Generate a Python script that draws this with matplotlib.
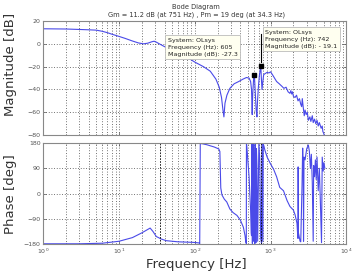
import matplotlib
matplotlib.use("Agg")
import matplotlib.pyplot as plt
from matplotlib.ticker import LogLocator, NullFormatter, FixedLocator

# magnitude trace (Hz, dB)
mag_freq = [1, 2, 3, 4, 5, 6, 7, 8, 10, 12, 15, 18, 21, 24, 27, 29, 31, 34, 40, 50,
            60, 80, 100, 130, 160, 190, 210, 225, 235, 242, 250, 265, 290, 330, 380,
            430, 480, 520, 545, 560, 572, 580, 595, 605, 615, 630, 645, 660, 672, 690,
            710, 725, 742, 755, 770, 790, 810, 850, 900, 950, 1000, 1080, 1150, 1200,
            1300, 1400, 1500, 1600, 1700, 1800, 1850, 1900, 1950, 2000, 2100, 2200,
            2300, 2400, 2500, 2570, 2620, 2700, 2780, 2850, 2950, 3050, 3150, 3300,
            3400, 3550, 3650, 3800, 3950, 4100, 4250, 4400, 4500, 4650, 4800, 4900,
            5000, 5100]
mag_db = [13.2, 13.0, 12.6, 12.3, 12.0, 11.0, 9.8, 8.5, 6.5, 4.8, 2.5, 0.8, 0.0, 0.6,
          1.8, 2.3, 1.5, 0.0, -2.5, -5.5, -8, -12, -16, -20, -24, -31, -38, -47, -58,
          -64, -52, -45, -39, -35, -33, -31, -29.5, -30, -33, -40, -62, -45, -32, -27.3,
          -31, -45, -58, -64, -50, -38, -28, -24, -19.1, -30, -40, -33, -27, -26, -25,
          -25.5, -24.5, -28, -31, -33, -35, -37, -39, -38, -42, -43.4, -41, -44, -42,
          -46, -47, -45, -50, -48, -53, -55, -48, -56, -63, -58, -62, -60, -67, -64,
          -68, -63, -69, -66, -70, -67, -72, -69, -71, -74, -72, -77, -78, -80]

# phase trace (Hz, deg)
ph_freq = [1, 3, 6, 10, 15, 20, 25.7, 28, 31, 36, 42, 60, 96, 114, 116, 118, 123, 144,
           180, 207, 214, 220, 228, 245, 264, 290, 320, 360, 400, 437, 460, 470, 478,
           480, 485, 500, 520, 545, 555, 560, 565, 575, 582, 590, 598, 610, 620, 630,
           640, 650, 660, 675, 700, 720, 740, 760, 770, 790, 800, 815, 840, 900, 1000,
           1090, 1200, 1320, 1480, 1650, 1800, 2000, 2100, 2230, 2280, 2300, 2310,
           2330, 2450, 2500, 2600, 2650, 2700, 2720, 2760, 2850, 3000, 3150, 3250,
           3350, 3450, 3550, 3650, 3700, 3800, 3900, 4000, 4100, 4250, 4400, 4550,
           4700, 4800, 4950, 5050, 5200]
ph_deg = [-179, -179, -177, -170, -157, -140, -123, -135, -153, -162, -168, -172, -174,
          -176, -179, 178, 178, 174, 166, 159, 150, 20, -5, -20, -30, -55, -68, -78,
          -95, -120, -150, -172, -178, 178, 170, 120, 60, -60, -140, -150, 175, -178,
          178, -170, 175, 90, -178, 178, -175, 160, 100, -170, 178, 120, -160, -178,
          178, -170, 176, 170, 155, 130, 105, 88, 60, 22, 10, -25, -46, -59, -75, -106,
          -150, -160, 95, -140, -170, -172, 30, 162, 80, -170, 130, 120, 160, 173, 150,
          90, 140, 40, -170, 100, 60, 120, 50, 130, 10, 90, -40, -175, 130, 80, 110, 90]

# margins and data tips
gm_freq, pm_freq = 751, 34.3
tips = [(605, -27.3), (742, -19.1)]
tip_texts = ["System: OLsys\nFrequency (Hz): 605\nMagnitude (dB): -27.3",
             "System: OLsys\nFrequency (Hz): 742\nMagnitude (dB): - 19.1"]

line_col = "#4a4ae8"
grid_kw = dict(color="#444444", linestyle=(0, (1, 2.2)), linewidth=0.6)

fig = plt.figure(figsize=(3.52, 2.73), dpi=100)
ax1 = fig.add_axes([0.123, 0.505, 0.861, 0.418])
ax2 = fig.add_axes([0.123, 0.106, 0.861, 0.37])

for ax in (ax1, ax2):
    ax.set_xscale("log")
    ax.set_xlim(1, 1e4)
    ax.xaxis.set_major_locator(LogLocator(base=10, numticks=10))
    ax.xaxis.set_minor_locator(LogLocator(base=10, subs=range(2, 10), numticks=10))
    ax.xaxis.set_minor_formatter(NullFormatter())
    ax.grid(True, which="major", **grid_kw)
    ax.grid(True, which="minor", axis="x", **grid_kw)
    ax.tick_params(which="both", direction="in", labelsize=4.5, colors="#555555",
                   length=2, width=0.5, top=True, right=True, pad=2)
    ax.tick_params(which="minor", length=1)
    for s in ax.spines.values():
        s.set_color("#888888")
        s.set_linewidth(0.8)

ax1.plot(mag_freq, mag_db, color=line_col, linewidth=0.8)
ax1.set_ylim(-80, 20)
ax1.yaxis.set_major_locator(FixedLocator([-80, -60, -40, -20, 0, 20]))
ax1.set_xticklabels([])
ax1.plot([gm_freq, gm_freq], [9, -16], color="black", linewidth=0.8)
for (f, m), txt, pos in zip(tips, tip_texts, [(0.41, 0.855), (0.733, 0.925)]):
    ax1.plot(f, m, marker="s", color="black", markersize=3.5, linestyle="none",
             zorder=6)
    ax1.text(pos[0], pos[1], txt, transform=ax1.transAxes, fontsize=4.6,
             va="top", ha="left", linespacing=1.5, color="#222222", zorder=5,
             bbox=dict(boxstyle="square,pad=0.4", facecolor="#fffff0",
                       edgecolor="#bbbbbb", linewidth=0.6))

ax2.plot(ph_freq, ph_deg, color=line_col, linewidth=0.8)
ax2.set_ylim(-180, 180)
ax2.yaxis.set_major_locator(FixedLocator([-180, -90, 0, 90, 180]))
for f in (pm_freq, gm_freq):
    ax2.axvline(f, color="black", linestyle=(0, (2, 1.5)), linewidth=0.6)

fig.text(0.557, 0.973, "Bode Diagram", ha="center", va="center", fontsize=4.8,
         color="#333333")
fig.text(0.557, 0.945, "Gm = 11.2 dB (at 751 Hz) , Pm = 19 deg (at 34.3 Hz)",
         ha="center", va="center", fontsize=4.8, color="#333333")
fig.text(0.03, 0.765, "Magnitude [dB]", rotation=90, ha="center", va="center",
         fontsize=9.5, color="#333333")
fig.text(0.03, 0.29, "Phase [deg]", rotation=90, ha="center", va="center",
         fontsize=9.5, color="#333333")
fig.text(0.557, 0.008, "Frequency [Hz]", ha="center", va="bottom",
         fontsize=9.5, color="#333333")

fig.savefig("out.png", dpi=100, facecolor="white")
